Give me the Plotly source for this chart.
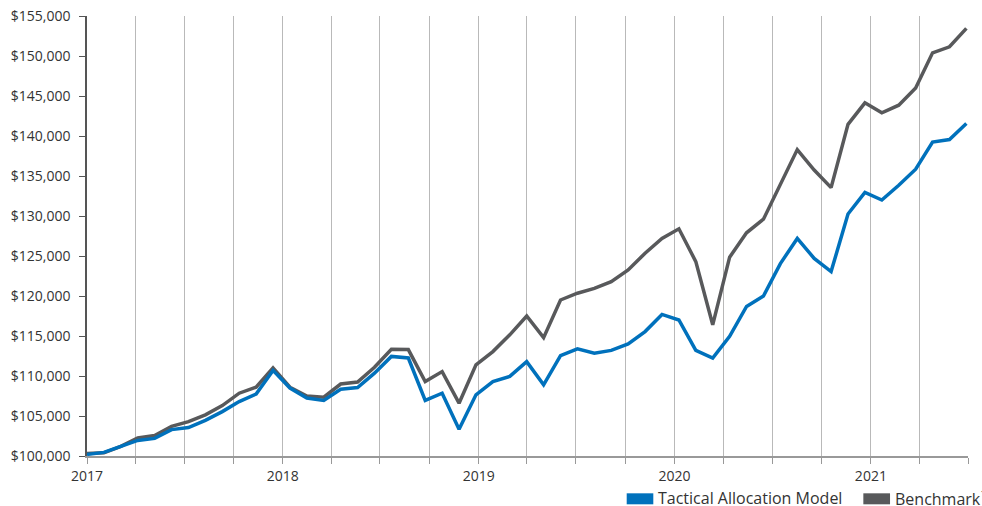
import pandas as pd
import plotly.graph_objects as go

# ---- data ----
n_points = 53
dates = pd.date_range(start="2017-01-01", end="2021-06-28", periods=n_points)

tactical = [
    100200, 100450, 101200, 101950, 102200, 103300, 103550, 104450, 105550, 106800,
    107750, 110700, 108500, 107250, 106950, 108350, 108550, 110350, 112450, 112250,
    106950, 107850, 103350, 107650, 109300, 109950, 111800, 108900, 112550, 113400,
    112850, 113200, 114000, 115550, 117700, 117000, 113200, 112250, 114950, 118700,
    120000, 124050, 127200, 124700, 123050, 130250, 132950, 132000, 133850, 135850,
    139250, 139550, 141550,
]

benchmark = [
    100300, 100400, 101200, 102250, 102550, 103700, 104300, 105150, 106300, 107850,
    108600, 111000, 108600, 107500, 107350, 109000, 109250, 111100, 113350, 113300,
    109300, 110550, 106600, 111400, 113050, 115150, 117500, 114800, 119500, 120350,
    120950, 121800, 123250, 125350, 127200, 128400, 124300, 116400, 124850, 127900,
    129600, 134050, 138300, 135750, 133550, 141450, 144150, 142900, 143850, 146000,
    150400, 151150, 153450,
]

series_names = ["Tactical Allocation Model", "Benchmark<sup>1</sup>"]
series_colors = ["#0071BC", "#58595B"]

FONT = "Open Sans"
TEXT = "#333333"
GRID = "#b9b9b9"

fig = go.Figure()
fig.add_trace(go.Scatter(x=dates, y=benchmark, mode="lines", name="Benchmark",
                         line=dict(color=series_colors[1], width=3.5), showlegend=False))
fig.add_trace(go.Scatter(x=dates, y=tactical, mode="lines", name="Tactical Allocation Model",
                         line=dict(color=series_colors[0], width=3.5), showlegend=False))

fig.update_layout(
    width=982, height=506,
    margin=dict(l=87, r=14, t=16, b=50, autoexpand=False),
    paper_bgcolor="white", plot_bgcolor="white",
    font=dict(family=FONT, size=14, color=TEXT),
    xaxis=dict(
        type="date",
        range=["2017-01-01", "2021-07-01"],
        tick0="2017-01-01", dtick="M12", tickformat="%Y",
        showgrid=True, gridcolor=GRID, gridwidth=1,
        ticks="outside", ticklen=6, tickcolor="#999999",
        showline=True, linecolor="#999999", linewidth=1.5,
        tickfont=dict(family=FONT, size=14, color=TEXT),
        minor=dict(dtick="M3", tick0="2017-01-01", showgrid=True, gridcolor=GRID,
                   gridwidth=1, ticks="outside", ticklen=6, tickcolor="#999999"),
        zeroline=False, fixedrange=True, automargin=False,
    ),
    yaxis=dict(
        range=[100000, 155000], dtick=5000, tick0=100000,
        tickprefix="$", tickformat=",d",
        showgrid=False, zeroline=False,
        showline=True, linecolor="#555555", linewidth=1.5,
        ticks="outside", ticklen=6, tickcolor="#555555",
        ticklabelstandoff=6,
        tickfont=dict(family=FONT, size=14, color=TEXT),
        fixedrange=True, automargin=False,
    ),
    showlegend=False,
)

# manual legend (rectangular swatches as in the reference)
legend_items = [
    (0.6126, 0.6428, 0.647),
    (0.8812, 0.9115, 0.9160),
]
for (x0, x1, tx), name, color in zip(legend_items, series_names, series_colors):
    fig.add_shape(type="rect", xref="paper", yref="paper", x0=x0, x1=x1,
                  y0=-0.1098, y1=-0.0848, fillcolor=color, line=dict(width=0))
    fig.add_annotation(xref="paper", yref="paper", x=tx, y=-0.0950,
                       xanchor="left", yanchor="middle", showarrow=False, borderpad=0,
                       text=name, font=dict(family=FONT, size=16, color=TEXT))

fig.write_html(
    "out.html",
    config={"displayModeBar": False},
    post_script="document.body.style.margin='0';document.body.style.overflow='hidden';",
)
